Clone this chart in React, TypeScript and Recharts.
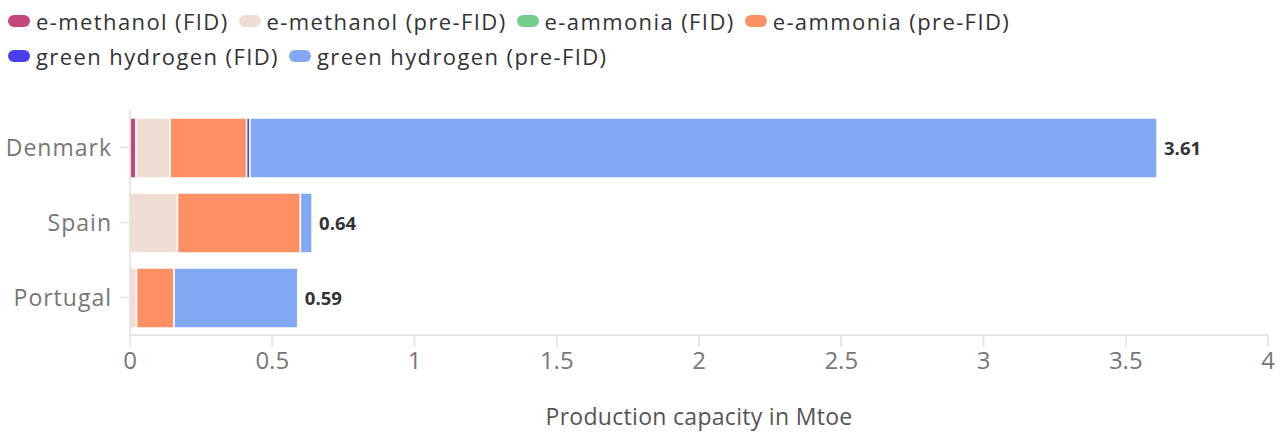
import React from "react";
import { BarChart, Bar, XAxis, YAxis, Legend, LabelList, Label } from "recharts";

const countries = ["Denmark", "Spain", "Portugal"];
const eMethanolFID = [0.021, 0, 0];
const eMethanolPre = [0.12, 0.167, 0.023];
const eAmmoniaFID = [0, 0, 0];
const eAmmoniaPre = [0.269, 0.432, 0.132];
const greenH2FID = [0.012, 0, 0];
const greenH2Pre = [3.188, 0.041, 0.435];
const totals = [3.61, 0.64, 0.59];
const xTicks = [0, 0.5, 1, 1.5, 2, 2.5, 3, 3.5, 4];

const series = [
  { key: "mFID", name: "e-methanol (FID)", color: "#c4477b", values: eMethanolFID },
  { key: "mPre", name: "e-methanol (pre-FID)", color: "#efdcd2", values: eMethanolPre },
  { key: "aFID", name: "e-ammonia (FID)", color: "#71cf8b", values: eAmmoniaFID },
  { key: "aPre", name: "e-ammonia (pre-FID)", color: "#ff9063", values: eAmmoniaPre },
  { key: "hFID", name: "green hydrogen (FID)", color: "#4b3ff2", values: greenH2FID },
  { key: "hPre", name: "green hydrogen (pre-FID)", color: "#80a8f3", values: greenH2Pre },
];

const data = countries.map((c, i) => {
  const row: any = { country: c, total: totals[i] };
  series.forEach((s) => (row[s.key] = s.values[i]));
  return row;
});

const FONT = "'Open Sans', 'Noto Sans', sans-serif";

const LegendContent = () => (
  <div
    style={{
      height: 110,
      width: 1080,
      display: "flex",
      flexWrap: "wrap",
      alignContent: "flex-start",
      paddingTop: 3,
      paddingLeft: 8,
      boxSizing: "border-box",
      fontFamily: FONT,
      fontSize: 22,
      letterSpacing: 1.4,
      color: "#333",
    }}
  >
    {series.map((s) => (
      <div key={s.key} style={{ display: "flex", alignItems: "center", height: 35, marginRight: 10 }}>
        <span
          style={{
            display: "inline-block",
            width: 22,
            height: 12,
            borderRadius: 6,
            background: s.color,
            marginRight: 6,
          }}
        />
        <span>{s.name}</span>
      </div>
    ))}
  </div>
);

export default function App() {
  return (
    <div style={{ position: "absolute", left: 0, top: 0, background: "#fff" }}>
      <BarChart
        width={1287}
        height={434}
        data={data}
        layout="vertical"
        margin={{ top: 0, right: 19, bottom: 0, left: 0 }}
        barCategoryGap={15}
      >
        <Legend
          verticalAlign="top"
          align="left"
          content={<LegendContent />}
          wrapperStyle={{ top: 0, left: 0, width: 1080, height: 110 }}
        />
        <XAxis
          type="number"
          domain={[0, 4]}
          ticks={xTicks}
          height={99}
          axisLine={{ stroke: "#e6e6e6", strokeWidth: 2 }}
          tickLine={{ stroke: "#e6e6e6", strokeWidth: 2 }}
          tickSize={12}
          tickMargin={5}
          tick={{ fill: "#777", fontSize: 24, fontFamily: FONT }}
        >
          <Label
            value="Production capacity in Mtoe"
            position="insideBottom"
            offset={9}
            style={{ fill: "#555", fontSize: 23, letterSpacing: 0.3, fontFamily: FONT }}
          />
        </XAxis>
        <YAxis
          type="category"
          dataKey="country"
          width={130}
          axisLine={{ stroke: "#e6e6e6", strokeWidth: 2 }}
          tickLine={{ stroke: "#e6e6e6", strokeWidth: 1.5 }}
          tickSize={10}
          tickMargin={8}
          tick={{ fill: "#777", fontSize: 23, letterSpacing: 1, fontFamily: FONT }}
        />
        {series.map((s, idx) => (
          <Bar
            key={s.key}
            dataKey={s.key}
            name={s.name}
            stackId="a"
            fill={s.color}
            stroke="#fff"
            strokeWidth={1.5}
            barSize={60}
            isAnimationActive={false}
          >
            {idx === series.length - 1 && (
              <LabelList
                dataKey="total"
                position="right"
                offset={7}
                formatter={(v: any) => Number(v).toFixed(2)}
                style={{ fill: "#333", fontSize: 18.5, fontWeight: 700, fontFamily: FONT }}
              />
            )}
          </Bar>
        ))}
      </BarChart>
    </div>
  );
}
